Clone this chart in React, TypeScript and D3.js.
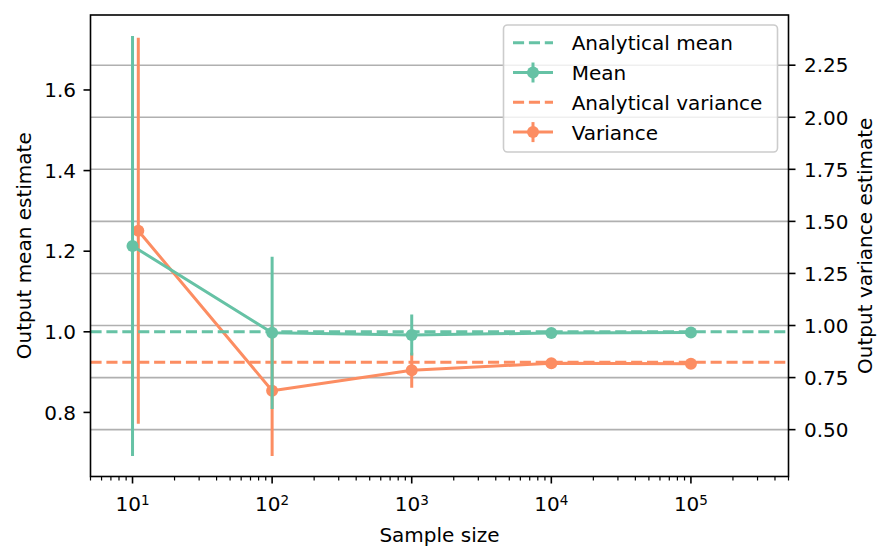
import React from 'react';
import * as d3 from 'd3';

const svgWidth = 892;
const svgHeight = 560;

const plotLeft = 90.5;
const plotRight = 788.5;
const plotTop = 15;
const plotBottom = 476.5;

const fontFamily = 'DejaVu Sans';
const green = '#66c2a5';
const orange = '#fc8d62';
const gridColor = '#b0b0b0';

// data
const sampleSizes = [10, 100, 1000, 10000, 100000];
const varianceSampleSizes = [11, 100, 1000, 10000, 100000];
const meanValues = [1.213, 0.9975, 0.992, 0.997, 0.9985];
const meanErrors = [0.521, 0.189, 0.051, 0.012, 0.004];
const varianceValues = [1.455, 0.687, 0.785, 0.819, 0.816];
const varianceErrors = [0.927, 0.314, 0.084, 0.02, 0.006];
const analyticalMean = 1.0;
const analyticalVariance = 0.823;

const xMajorTicks = [10, 100, 1000, 10000, 100000];
const meanTicks = [0.8, 1.0, 1.2, 1.4, 1.6];
const varianceTicks = [0.5, 0.75, 1.0, 1.25, 1.5, 1.75, 2.0, 2.25];

const legendLabels = ['Analytical mean', 'Mean', 'Analytical variance', 'Variance'];

const xScale = d3.scaleLog().domain([5, 5e5]).range([plotLeft, plotRight]);
const yMean = d3.scaleLinear().domain([0.641, 1.786]).range([plotBottom, plotTop]);
const yVar = d3.scaleLinear().domain([0.275, 2.491]).range([plotBottom, plotTop]);

const xMinorTicks: number[] = [];
for (let p = 0; p <= 5; p++) {
  for (let m = 2; m <= 9; m++) {
    const v = m * Math.pow(10, p);
    if (v >= 5 && v <= 5e5) xMinorTicks.push(v);
  }
}

const dash = '11.1,4.8';

function Series({ xs, ys, errs, yScale, color }) {
  const pts = xs.map((x, i) => [xScale(x), yScale(ys[i])]);
  const line = d3.line();
  return (
    <g>
      {xs.map((x, i) => (
        <line
          key={'e' + i}
          x1={xScale(x)}
          x2={xScale(x)}
          y1={yScale(ys[i] - errs[i])}
          y2={yScale(ys[i] + errs[i])}
          stroke={color}
          strokeWidth={3}
        />
      ))}
      <path d={line(pts)} fill="none" stroke={color} strokeWidth={3} strokeLinejoin="round" />
      {pts.map((p, i) => (
        <circle key={'m' + i} cx={p[0]} cy={p[1]} r={6} fill={color} />
      ))}
    </g>
  );
}

function ErrorbarChart() {
  const fmt = d3.format('.2f');
  const legendRowY = [42.7, 72.5, 102.3, 132.1];
  const legendColors = [green, green, orange, orange];
  const legendDashed = [true, false, true, false];

  return (
    <svg
      width={svgWidth}
      height={svgHeight}
      style={{ position: 'absolute', left: 0, top: 0, background: '#fff' }}
      fontFamily={fontFamily}
    >
      <rect width={svgWidth} height={svgHeight} fill="#fff" />
      <defs>
        <clipPath id="plot-clip">
          <rect x={plotLeft} y={plotTop} width={plotRight - plotLeft} height={plotBottom - plotTop} />
        </clipPath>
      </defs>

      {/* grid from the right axis */}
      {varianceTicks.map((t) => (
        <line key={t} x1={plotLeft} x2={plotRight} y1={yVar(t)} y2={yVar(t)} stroke={gridColor} strokeWidth={1.6} />
      ))}

      <g clipPath="url(#plot-clip)">
        <line
          x1={plotLeft}
          x2={plotRight}
          y1={yVar(analyticalVariance)}
          y2={yVar(analyticalVariance)}
          stroke={orange}
          strokeWidth={3}
          strokeDasharray={dash}
        />
        <Series xs={varianceSampleSizes} ys={varianceValues} errs={varianceErrors} yScale={yVar} color={orange} />
        <line
          x1={plotLeft}
          x2={plotRight}
          y1={yMean(analyticalMean)}
          y2={yMean(analyticalMean)}
          stroke={green}
          strokeWidth={3}
          strokeDasharray={dash}
        />
        <Series xs={sampleSizes} ys={meanValues} errs={meanErrors} yScale={yMean} color={green} />
      </g>

      {/* frame */}
      <rect
        x={plotLeft}
        y={plotTop}
        width={plotRight - plotLeft}
        height={plotBottom - plotTop}
        fill="none"
        stroke="#000"
        strokeWidth={1.6}
      />

      {/* x axis */}
      {xMinorTicks.map((t) => (
        <line key={t} x1={xScale(t)} x2={xScale(t)} y1={plotBottom} y2={plotBottom + 4} stroke="#000" strokeWidth={1.2} />
      ))}
      {xMajorTicks.map((t) => {
        const x = xScale(t);
        const exp = Math.round(Math.log10(t));
        return (
          <g key={t}>
            <line x1={x} x2={x} y1={plotBottom} y2={plotBottom + 7} stroke="#000" strokeWidth={1.6} />
            <text x={x} y={511} textAnchor="middle" fontSize={20}>
              <tspan>10</tspan>
              <tspan dy={-6} fontSize={13.5}>
                {exp}
              </tspan>
            </text>
          </g>
        );
      })}
      <text x={(plotLeft + plotRight) / 2} y={541.5} textAnchor="middle" fontSize={20}>
        Sample size
      </text>

      {/* left axis */}
      {meanTicks.map((t) => (
        <g key={t}>
          <line x1={plotLeft - 7} x2={plotLeft} y1={yMean(t)} y2={yMean(t)} stroke="#000" strokeWidth={1.6} />
          <text x={76} y={yMean(t) + 7.3} textAnchor="end" fontSize={20}>
            {t.toFixed(1)}
          </text>
        </g>
      ))}
      <text transform={`translate(30.5, ${(plotTop + plotBottom) / 2}) rotate(-90)`} textAnchor="middle" fontSize={20}>
        Output mean estimate
      </text>

      {/* right axis */}
      {varianceTicks.map((t) => (
        <g key={t}>
          <line x1={plotRight} x2={plotRight + 7} y1={yVar(t)} y2={yVar(t)} stroke="#000" strokeWidth={1.6} />
          <text x={804} y={yVar(t) + 7.3} textAnchor="start" fontSize={20}>
            {fmt(t)}
          </text>
        </g>
      ))}
      <text transform={`translate(872, ${(plotTop + plotBottom) / 2}) rotate(-90)`} textAnchor="middle" fontSize={20}>
        Output variance estimate
      </text>

      {/* legend */}
      <rect x={503.5} y={25} width={274} height={127} rx={4} fill="#fff" fillOpacity={0.8} stroke="#cccccc" strokeWidth={1.6} />
      {legendLabels.map((label, i) => {
        const y = legendRowY[i];
        const c = legendColors[i];
        return (
          <g key={label}>
            <line x1={513} x2={553} y1={y} y2={y} stroke={c} strokeWidth={3} strokeDasharray={legendDashed[i] ? dash : undefined} />
            {!legendDashed[i] && (
              <g>
                <line x1={533} x2={533} y1={y - 10} y2={y + 10} stroke={c} strokeWidth={3} />
                <circle cx={533} cy={y} r={6} fill={c} />
              </g>
            )}
            <text x={571.7} y={y + 7.6} fontSize={20}>
              {label}
            </text>
          </g>
        );
      })}
    </svg>
  );
}

export default function App() {
  return <ErrorbarChart />;
}
